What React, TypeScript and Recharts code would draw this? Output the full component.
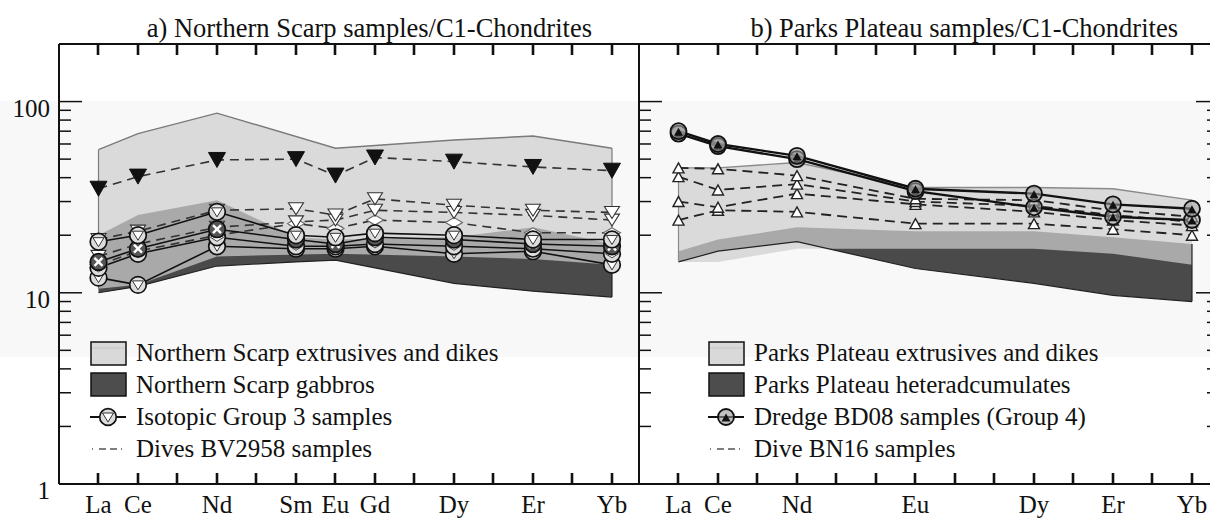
import React from 'react';
import { ComposedChart, Area, Line, XAxis, YAxis, Legend } from 'recharts';

const FONT = '"Liberation Serif", "Times New Roman", serif';

// x positions: full REE sequence, only some are labelled
const ELEMENTS = ['La', 'Ce', 'Pr', 'Nd', 'Pm', 'Sm', 'Eu', 'Gd', 'Tb', 'Dy', 'Ho', 'Er', 'Tm', 'Yb'];
const LEFT_LABELS = ['La', 'Ce', 'Nd', 'Sm', 'Eu', 'Gd', 'Dy', 'Er', 'Yb'];
const RIGHT_LABELS = ['La', 'Ce', 'Nd', 'Eu', 'Dy', 'Er', 'Yb'];
const Y_TICKS = [1, 2, 3, 4, 5, 6, 7, 8, 9, 10, 20, 30, 40, 50, 60, 70, 80, 90, 100];
const Y_MAJOR = [1, 10, 100];

// a) Northern Scarp fields
const NS_EXTR_EL = ['La', 'Ce', 'Nd', 'Eu', 'Dy', 'Er', 'Yb'];
const NS_EXTR_HIGH = [56, 68, 87, 57, 63, 66, 57];
const NS_EXTR_LOW = [10.5, 11, 15.5, 16, 15.5, 15, 14];
const NS_GAB_EL = ['La', 'Ce', 'Nd', 'Sm', 'Eu', 'Dy', 'Er', 'Yb'];
const NS_GAB_HIGH = [20, 25.5, 30.5, 19.5, 19, 19.5, 22, 18];
const NS_GAB_LOW = [10, 10.8, 13.8, 14.5, 14.8, 11.2, 10.2, 9.5];

// a) samples (La Ce Nd Sm Eu Gd Dy Er Yb)
const NS_EL = ['La', 'Ce', 'Nd', 'Sm', 'Eu', 'Gd', 'Dy', 'Er', 'Yb'];
const G3_A = [18.5, 20, 26.5, 20, 19.5, 20.5, 20, 19, 19];
const G3_B = [14.5, 17, 21.5, 19, 18, 19.5, 19, 18, 17.5];
const G3_C = [13.5, 16, 19.5, 17.5, 17.5, 18, 17.5, 17, 16];
const G3_D = [12, 11, 17.5, 17, 17, 17.5, 16, 16.5, 14];
const BV_BLACK = [35, 40.5, 49.5, 50, 41, 51, 48.5, 45.5, 43.5];
const BV_W1 = [19, 21, 27, 27.5, 25.5, 31, 28.7, 27, 26.3];
const BV_W2 = [15.5, 18, 22, 23.5, 24, 27, 26.3, 25.4, 24];
const BV_W3 = [14, 16.5, 20, 23, 21.7, 24, 23.3, 20.6, 20.6];

// b) Parks Plateau (La Ce Nd Eu Dy Er Yb)
const PP_EL = ['La', 'Ce', 'Nd', 'Eu', 'Dy', 'Er', 'Yb'];
const PP_EXTR_HIGH = [45, 45, 48, 35.5, 35.5, 35, 30.5];
const PP_EXTR_LOW = [14.5, 14.5, 17, 17, 17, 16, 14];
const PP_HET_HIGH = [16.5, 19, 22, 21, 21, 19.5, 18];
const PP_HET_LOW = [14.5, 16.5, 18.5, 13.4, 11.2, 9.7, 9];
const BD_1 = [70, 60, 52, 35, 33, 29, 27.5];
const BD_2 = [68, 58.5, 50, 34, 28, 25, 24];
const BN_1 = [45, 44.5, 41, 31, 30.5, 27, 25];
const BN_2 = [40.5, 34.5, 37, 30, 28.5, 25.5, 23.5];
const BN_3 = [30, 28, 33, 29, 26.5, 24, 22.5];
const BN_4 = [24, 27, 26.5, 23, 23, 21.5, 20];

const X_DOMAIN: [number, number] = [-1, 13.684];
const X_TICKS = ELEMENTS.map((_, i) => i);

const idx = (e: string) => ELEMENTS.indexOf(e);
const pts = (els: string[], vals: number[]) => els.map((e, i) => ({ x: idx(e), y: vals[i] }));
const range = (els: string[], low: number[], high: number[]) =>
  els.map((e, i) => ({ x: idx(e), r: [low[i], high[i]] }));
const edge = (els: string[], low: number[], high: number[], i: number) => [
  { x: idx(els[i]), y: low[i] },
  { x: idx(els[i]), y: high[i] },
];

const downTri = (cx: number, cy: number, w: number, h: number) =>
  `M${cx - w / 2},${cy - h / 2}L${cx + w / 2},${cy - h / 2}L${cx},${cy + h / 2}Z`;
const upTri = (cx: number, cy: number, w: number, h: number) =>
  `M${cx - w / 2},${cy + h / 2}L${cx + w / 2},${cy + h / 2}L${cx},${cy - h / 2}Z`;
const diamond = (cx: number, cy: number, w: number, h: number) =>
  `M${cx - w / 2},${cy}L${cx},${cy - h / 2}L${cx + w / 2},${cy}L${cx},${cy + h / 2}Z`;

function marker(kind: string, cx: number, cy: number, key?: string) {
  switch (kind) {
    case 'blackTri':
      return <path key={key} d={downTri(cx, cy, 17, 15)} fill="#111" stroke="#111" />;
    case 'whiteTri':
      return <path key={key} d={downTri(cx, cy, 15, 12)} fill="#fff" stroke="#333" strokeWidth={1.1} />;
    case 'whiteDia':
      return <path key={key} d={diamond(cx, cy, 17, 10)} fill="#fff" stroke="#666" strokeWidth={1.1} />;
    case 'circTri':
      return (
        <g key={key}>
          <circle cx={cx} cy={cy} r={8.3} fill="#dcdcdc" stroke="#111" strokeWidth={1.7} />
          <path d={downTri(cx, cy + 0.5, 11, 9)} fill="#fff" stroke="#333" />
        </g>
      );
    case 'circX':
      return (
        <g key={key}>
          <circle cx={cx} cy={cy} r={8.3} fill="#555" stroke="#111" strokeWidth={1.7} />
          <path d={`M${cx - 4},${cy - 4}L${cx + 4},${cy + 4}M${cx + 4},${cy - 4}L${cx - 4},${cy + 4}`} stroke="#fff" strokeWidth={2.4} />
        </g>
      );
    case 'circDia':
      return (
        <g key={key}>
          <circle cx={cx} cy={cy} r={8.3} fill="#dcdcdc" stroke="#111" strokeWidth={1.7} />
          <path d={diamond(cx, cy, 13, 8)} fill="#fff" stroke="#444" />
        </g>
      );
    case 'circUp':
      return (
        <g key={key}>
          <circle cx={cx} cy={cy} r={8} fill="#9a9a9a" fillOpacity={0.6} stroke="#111" strokeWidth={1.8} />
          <path d={upTri(cx, cy + 0.5, 9, 8)} fill="#111" />
        </g>
      );
    case 'whiteUp':
      return <path key={key} d={upTri(cx, cy, 11, 10)} fill="#fff" stroke="#222" strokeWidth={1.4} />;
    default:
      return <g key={key} />;
  }
}

const dot = (kind: string) => (p: any) => {
  const key = `${kind}-${p.index}`;
  if (typeof p.cx !== 'number' || typeof p.cy !== 'number') return <g key={key} />;
  return marker(kind, p.cx, p.cy, key);
};

// element names plus a short inward tick mark, drawn as a filled rect so it survives downscaling
const bottomTick = (labels: string[]) => (p: any) => {
  const name = ELEMENTS[p.payload.value];
  const x = Math.round(p.x);
  return (
    <g>
      <rect x={x - 1.3} y={p.y - 11} width={2.6} height={11} fill="#111" />
      {labels.includes(name) && (
        <text x={p.x} y={p.y + 29} textAnchor="middle" fontSize={25} fontFamily={FONT} fill="#111">
          {name}
        </text>
      )}
    </g>
  );
};
const topTick = (p: any) => {
  const x = Math.round(p.x);
  return <rect x={x - 1.3} y={p.y} width={2.6} height={11} fill="#111" />;
};
const leftTick = (withLabels: boolean) => (p: any) => {
  const major = Y_MAJOR.includes(p.payload.value);
  return (
    <g>
      <line x1={p.x} x2={p.x + (major ? 23 : 12)} y1={p.y} y2={p.y} stroke="#111" strokeWidth={1.5} />
      {withLabels && major && (
        <text x={p.x - 9} y={p.y + 15} textAnchor="end" fontSize={25} fontFamily={FONT} fill="#111">
          {p.payload.value}
        </text>
      )}
    </g>
  );
};
const rightTick = (p: any) => {
  const major = Y_MAJOR.includes(p.payload.value);
  return <line x1={p.x} x2={p.x - (major ? 23 : 12)} y1={p.y} y2={p.y} stroke="#111" strokeWidth={1.5} />;
};

const frame = { stroke: '#111', strokeWidth: 2 };

function axes(labels: string[], withYLabels: boolean) {
  return [
    <XAxis key="xb" xAxisId={0} orientation="bottom" type="number" dataKey="x" domain={X_DOMAIN} ticks={X_TICKS} interval={0}
      height={1} tickSize={0} tickMargin={0} axisLine={frame} tickLine={false} tick={bottomTick(labels)} allowDataOverflow />,
    <XAxis key="xt" xAxisId="top" orientation="top" type="number" dataKey="x" domain={X_DOMAIN} ticks={X_TICKS}
      interval={0} height={1} tickSize={0} tickMargin={0} axisLine={frame} tickLine={false} tick={topTick} allowDataOverflow />,
    <YAxis key="yl" yAxisId={0} type="number" scale="log" domain={[1, 200]} ticks={Y_TICKS} interval={0}
      width={59} tickSize={0} tickMargin={0} axisLine={frame} tickLine={false} tick={leftTick(withYLabels)} allowDataOverflow />,
  ];
}

const txt = { fontSize: 25, fontFamily: FONT, fill: '#111' };

function LegendBox({ names, circle }: { names: string[]; circle: string }) {
  return (
    <svg width={480} height={135} style={{ display: 'block', overflow: 'visible' }}>
      <rect x={1} y={6} width={35} height={23} fill="#d9d9d9" stroke="#111" strokeWidth={1.5} />
      <line x1={2} x2={35} y1={12} y2={12} stroke="#c4c4c4" strokeWidth={1} />
      <text x={46} y={25} {...txt}>{names[0]}</text>
      <rect x={1} y={37} width={35} height={23} fill="#4d4d4d" stroke="#111" strokeWidth={1.5} />
      <text x={46} y={57} {...txt}>{names[1]}</text>
      <line x1={0} x2={36} y1={81} y2={81} stroke="#111" strokeWidth={1.8} />
      {marker(circle, 18, 81)}
      <text x={46} y={89} {...txt}>{names[2]}</text>
      <line x1={2} x2={36} y1={113} y2={113} stroke="#555" strokeWidth={1.3} strokeDasharray="1 6 7 4 7 4" />
      <text x={46} y={121} {...txt}>{names[3]}</text>
    </svg>
  );
}

const LEFT_NAMES = ['Northern Scarp extrusives and dikes', 'Northern Scarp gabbros', 'Isotopic Group 3 samples', 'Dives BV2958 samples'];
const RIGHT_NAMES = ['Parks Plateau extrusives and dikes', 'Parks Plateau heteradcumulates', 'Dredge BD08 samples (Group 4)', 'Dive BN16 samples'];

const dashed = { stroke: '#333', strokeWidth: 1.6, strokeDasharray: '9 6', type: 'linear' as const, isAnimationActive: false, activeDot: false as const, legendType: 'none' as const };
const solid = { stroke: '#111', type: 'linear' as const, isAnimationActive: false, activeDot: false as const, legendType: 'none' as const };
const outline = { type: 'linear' as const, isAnimationActive: false, activeDot: false as const, dot: false as const, legendType: 'none' as const };

const MARGIN_L = { top: 43, right: 1, bottom: 33, left: 0 };
const MARGIN_R = { top: 43, right: 0, bottom: 33, left: 0 };

function LeftPanel() {
  return (
    <ComposedChart width={640} height={518} margin={MARGIN_L}>
      {axes(LEFT_LABELS, true)}
      <Area data={range(NS_GAB_EL, NS_GAB_LOW, NS_GAB_HIGH)} dataKey="r" type="linear" fill="#4a4a4a" fillOpacity={1} stroke="none" isAnimationActive={false} legendType="none" />
      <Line data={pts(NS_GAB_EL, NS_GAB_LOW)} dataKey="y" stroke="#222" strokeWidth={1.2} {...outline} />
      <Line data={edge(NS_GAB_EL, NS_GAB_LOW, NS_GAB_HIGH, NS_GAB_EL.length - 1)} dataKey="y" stroke="#222" strokeWidth={1.2} {...outline} />
      <Area data={range(NS_EXTR_EL, NS_EXTR_LOW, NS_EXTR_HIGH)} dataKey="r" type="linear" fill="#cfcfcf" fillOpacity={0.72} stroke="none" isAnimationActive={false} legendType="none" />
      <Line data={pts(NS_EXTR_EL, NS_EXTR_HIGH)} dataKey="y" stroke="#7a7a7a" strokeWidth={1.4} {...outline} />
      <Line data={edge(NS_EXTR_EL, NS_EXTR_LOW, NS_EXTR_HIGH, 0)} dataKey="y" stroke="#7a7a7a" strokeWidth={1.2} {...outline} />
      <Line data={edge(NS_EXTR_EL, NS_EXTR_LOW, NS_EXTR_HIGH, NS_EXTR_EL.length - 1)} dataKey="y" stroke="#7a7a7a" strokeWidth={1.2} {...outline} />
      <Line data={pts(NS_EL, BV_W3)} dataKey="y" {...dashed} dot={dot('whiteDia')} />
      <Line data={pts(NS_EL, BV_W2)} dataKey="y" {...dashed} dot={dot('whiteTri')} />
      <Line data={pts(NS_EL, BV_W1)} dataKey="y" {...dashed} dot={dot('whiteTri')} />
      <Line data={pts(NS_EL, BV_BLACK)} dataKey="y" {...dashed} dot={dot('blackTri')} />
      <Line data={pts(NS_EL, G3_D)} dataKey="y" {...solid} strokeWidth={1.6} dot={dot('circTri')} />
      <Line data={pts(NS_EL, G3_C)} dataKey="y" {...solid} strokeWidth={1.6} dot={dot('circDia')} />
      <Line data={pts(NS_EL, G3_B)} dataKey="y" {...solid} strokeWidth={1.6} dot={dot('circX')} />
      <Line data={pts(NS_EL, G3_A)} dataKey="y" {...solid} strokeWidth={1.6} dot={dot('circTri')} />
      <Legend layout="horizontal" verticalAlign="middle" align="center"
        wrapperStyle={{ position: 'absolute', left: 90, top: 336, width: 480, height: 135 }}
        content={() => <LegendBox names={LEFT_NAMES} circle="circTri" />} />
    </ComposedChart>
  );
}

function RightPanel() {
  return (
    <ComposedChart width={640} height={518} margin={MARGIN_R}>
      {axes(RIGHT_LABELS, false)}
      <YAxis yAxisId="r" orientation="right" type="number" scale="log" domain={[1, 200]} ticks={Y_TICKS} interval={0}
        width={1} tickSize={0} tickMargin={0} axisLine={frame} tickLine={false} tick={rightTick} allowDataOverflow />
      <Area data={range(PP_EL, PP_HET_LOW, PP_HET_HIGH)} dataKey="r" type="linear" fill="#4a4a4a" fillOpacity={1} stroke="none" isAnimationActive={false} legendType="none" />
      <Line data={pts(PP_EL, PP_HET_LOW)} dataKey="y" stroke="#222" strokeWidth={1.2} {...outline} />
      <Line data={edge(PP_EL, PP_HET_LOW, PP_HET_HIGH, PP_EL.length - 1)} dataKey="y" stroke="#222" strokeWidth={1.2} {...outline} />
      <Area data={range(PP_EL, PP_EXTR_LOW, PP_EXTR_HIGH)} dataKey="r" type="linear" fill="#cfcfcf" fillOpacity={0.72} stroke="none" isAnimationActive={false} legendType="none" />
      <Line data={pts(PP_EL, PP_EXTR_HIGH)} dataKey="y" stroke="#8a8a8a" strokeWidth={1.4} {...outline} />
      <Line data={edge(PP_EL, PP_EXTR_LOW, PP_EXTR_HIGH, 0)} dataKey="y" stroke="#8a8a8a" strokeWidth={1.2} {...outline} />
      <Line data={pts(PP_EL, BN_4)} dataKey="y" {...dashed} stroke="#222" strokeWidth={1.8} strokeDasharray="10 6" dot={dot('whiteUp')} />
      <Line data={pts(PP_EL, BN_3)} dataKey="y" {...dashed} stroke="#222" strokeWidth={1.8} strokeDasharray="10 6" dot={dot('whiteUp')} />
      <Line data={pts(PP_EL, BN_2)} dataKey="y" {...dashed} stroke="#222" strokeWidth={1.8} strokeDasharray="10 6" dot={dot('whiteUp')} />
      <Line data={pts(PP_EL, BN_1)} dataKey="y" {...dashed} stroke="#222" strokeWidth={1.8} strokeDasharray="10 6" dot={dot('whiteUp')} />
      <Line data={pts(PP_EL, BD_2)} dataKey="y" {...solid} strokeWidth={2.4} dot={dot('circUp')} />
      <Line data={pts(PP_EL, BD_1)} dataKey="y" {...solid} strokeWidth={2.4} dot={dot('circUp')} />
      <Legend layout="horizontal" verticalAlign="middle" align="center"
        wrapperStyle={{ position: 'absolute', left: 128, top: 336, width: 480, height: 135 }}
        content={() => <LegendBox names={RIGHT_NAMES} circle="circUp" />} />
    </ComposedChart>
  );
}

export default function App() {
  return (
    <div style={{ position: 'fixed', left: 0, top: 0, width: 1210, height: 518, overflow: 'hidden', background: '#fff' }}>
      <div style={{ position: 'absolute', left: 0, top: 101, width: 1210, height: 256, background: '#f8f8f8' }} />
      <div style={{ position: 'absolute', left: 0, top: 0 }}>
        <LeftPanel />
      </div>
      <div style={{ position: 'absolute', left: 580, top: 0 }}>
        <RightPanel />
      </div>
      <svg width={1210} height={50} style={{ position: 'absolute', left: 0, top: 0, pointerEvents: 'none' }}>
        <text x={592} y={37} textAnchor="end" fontSize={26.5} fontFamily={FONT} fill="#111">
          a) Northern Scarp samples/C1-Chondrites
        </text>
        <text x={1178} y={37} textAnchor="end" fontSize={26.5} fontFamily={FONT} fill="#111">
          b) Parks Plateau samples/C1-Chondrites
        </text>
      </svg>
    </div>
  );
}
